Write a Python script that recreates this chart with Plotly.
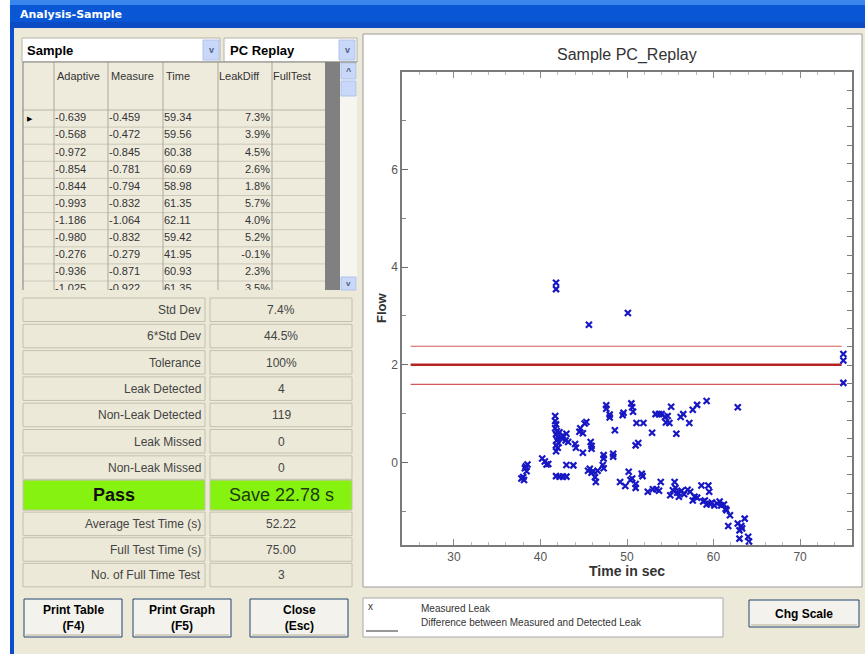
import plotly.graph_objects as go

W, H = 865, 654
FONT = "Liberation Sans, Arial, sans-serif"

# ---------------- data ----------------
# scatter: measured leak (time in sec, flow)
time_s = [
    41.8, 41.8, 45.6, 50.1,
    75.0, 75.0, 75.0,
    37.8, 38.0, 38.1, 38.2, 38.3, 38.5, 38.4,
    40.2, 40.5, 40.7, 40.9,
    41.7, 41.7, 41.8, 41.7, 41.9, 41.8, 42.0, 41.9, 42.1, 41.8, 42.0, 41.8, 42.2, 42.4, 42.6, 43.0, 43.2, 42.9,
    41.8, 42.2, 42.6, 43.0, 43.0, 43.8,
    44.0, 44.1, 44.5, 44.6, 44.9, 45.1, 45.3, 44.9, 45.8, 45.9, 45.9,
    45.5, 45.7, 45.9, 46.1, 46.3, 46.4, 46.6,
    47.3, 47.3, 47.2, 47.3, 48.4, 48.4, 47.6, 47.6, 48.0, 48.0, 48.6, 49.5, 49.6,
    50.5, 50.6, 50.7, 51.1, 51.9, 51.0, 51.3,
    49.2, 49.8, 50.2, 50.4, 50.6, 51.0, 51.0, 51.7, 51.8,
    52.9, 53.3, 53.7, 54.0, 54.4, 54.5, 54.7, 54.9, 55.1, 55.7, 56.2, 56.5, 57.2, 57.6, 58.1, 59.2, 62.8,
    52.4, 53.0, 53.4, 53.7, 53.9, 55.0, 55.3, 55.5, 55.6, 55.8, 56.0, 56.3, 56.6, 57.0, 57.3, 57.6, 57.8, 58.1,
    58.6, 58.8, 59.0, 59.2, 59.4, 59.5, 59.6, 59.8, 60.1, 60.4, 60.7, 60.9, 61.2, 61.4, 61.5, 61.9, 61.7,
    62.8, 63.0, 63.0, 63.2, 63.3, 63.6, 64.0, 64.1,
]
flow_val = [
    3.68, 3.55, 2.82, 3.06,
    2.22, 2.09, 1.63,
    -0.33, -0.30, -0.36, -0.12, -0.08, -0.04, -0.18,
    0.08, 0.02, -0.04, -0.03,
    0.95, 0.85, 0.78, 0.70, 0.64, 0.58, 0.52, 0.46, 0.40, 0.35, 0.30, 0.23, 0.62, 0.50, 0.55, 0.59, 0.42, 0.45,
    -0.28, -0.29, -0.29, -0.29, -0.05, -0.06,
    0.38, 0.30, 0.63, 0.70, 0.60, 0.80, 0.83, 0.20, 0.42, 0.34, 0.28,
    -0.17, -0.13, -0.21, -0.18, -0.30, -0.40, -0.17,
    0.15, 0.08, -0.05, -0.12, 0.18, 0.12, 1.17, 1.10, 0.92, 0.98, 0.66, 0.97, 1.02,
    1.21, 1.13, 1.04, 0.81, 0.81, 0.35, 0.40,
    -0.40, -0.48, -0.19, -0.36, -0.33, -0.44, -0.52, -0.23, -0.28,
    0.61, 0.99, 0.99, 0.99, 0.93, 0.82, 0.95, 0.81, 1.14, 0.59, 0.93, 0.99, 0.81, 1.08, 1.18, 1.26, 1.13,
    -0.60, -0.55, -0.55, -0.58, -0.40, -0.67, -0.57, -0.40, -0.52, -0.62, -0.70, -0.58, -0.65, -0.56, -0.60, -0.78, -0.70, -0.72,
    -0.47, -0.80, -0.78, -0.86, -0.47, -0.60, -0.85, -0.82, -0.88, -0.84, -0.80, -0.88, -0.86, -0.95, -0.98, -1.08, -1.30,
    -1.25, -1.39, -1.56, -1.30, -1.35, -1.15, -1.52, -1.62,
]
# tolerance lines (difference between measured and detected leak)
tol_x = [25.0, 74.8]
tol_center = 2.0
tol_upper = 2.38
tol_lower = 1.60

# table
table_headers = ["Adaptive", "Measure", "Time", "LeakDiff", "FullTest"]
adaptive = ["-0.639", "-0.568", "-0.972", "-0.854", "-0.844", "-0.993", "-1.186", "-0.980", "-0.276", "-0.936", "-1.025"]
measure = ["-0.459", "-0.472", "-0.845", "-0.781", "-0.794", "-0.832", "-1.064", "-0.832", "-0.279", "-0.871", "-0.922"]
time_col = ["59.34", "59.56", "60.38", "60.69", "58.98", "61.35", "62.11", "59.42", "41.95", "60.93", "61.35"]
leakdiff = ["7.3%", "3.9%", "4.5%", "2.6%", "1.8%", "5.7%", "4.0%", "5.2%", "-0.1%", "2.3%", "3.5%"]

# statistics
stat_labels = ["Std Dev", "6*Std Dev", "Tolerance", "Leak Detected", "Non-Leak Detected", "Leak Missed", "Non-Leak Missed"]
stat_values = ["7.4%", "44.5%", "100%", "4", "119", "0", "0"]
result_label = "Pass"
result_value = "Save 22.78 s"
time_labels = ["Average Test Time (s)", "Full Test Time (s)", "No. of Full Time Test"]
time_values = ["52.22", "75.00", "3"]

# ---------------- helpers ----------------
def px(x):
    return x / W


def py(y):
    return 1 - y / H


shapes = []
annotations = []


def rect(x0, y0, x1, y1, fill=None, line=None, lw=1, layer="below"):
    shapes.append(dict(type="rect", xref="paper", yref="paper",
                       x0=px(x0), x1=px(x1), y0=py(y1), y1=py(y0),
                       fillcolor=fill or "rgba(0,0,0,0)",
                       line=dict(color=line or "rgba(0,0,0,0)", width=lw if line else 0),
                       layer=layer))


def hline(x0, x1, y, color, lw=1, layer="below"):
    shapes.append(dict(type="line", xref="paper", yref="paper", x0=px(x0), x1=px(x1),
                       y0=py(y), y1=py(y), line=dict(color=color, width=lw), layer=layer))


def vline(x, y0, y1, color, lw=1, layer="below"):
    shapes.append(dict(type="line", xref="paper", yref="paper", x0=px(x), x1=px(x),
                       y0=py(y0), y1=py(y1), line=dict(color=color, width=lw), layer=layer))


def text(x, y, s, size=11, color="#333333", bold=False, anchor="left", family=FONT, angle=0):
    annotations.append(dict(x=px(x), y=py(y), xref="paper", yref="paper",
                            text=f"<b>{s}</b>" if bold else s, showarrow=False,
                            xanchor=anchor, yanchor="middle", textangle=angle,
                            font=dict(size=size, color=color, family=family)))


def button(x0, y0, x1, y1, label, size=12):
    rect(x0, y0, x1, y1, fill="#F3F2EC", line="#22456F", lw=1)
    hline(x0 + 2, x1 - 2, y1 - 2, "#D6D0C0", 2)
    text((x0 + x1) / 2, (y0 + y1) / 2, label, size=size, color="#000000", bold=True, anchor="center")


BEIGE = "#ECE9D8"

# ---------------- window frame ----------------
rect(14, 28, 865, 654, fill=BEIGE)
rect(10, 0, 865, 28, fill="#0A57D5")
rect(10, 0, 865, 5, fill="#3B86EE")
rect(10, 22, 865, 28, fill="#0B4CC4")
rect(10, 28, 14, 654, fill="#0A4FCF")
text(18, 14, "Analysis-Sample", size=11, color="#FFFFFF", bold=True, family="DejaVu Sans, sans-serif")

# ---------------- combo boxes ----------------
rect(22, 38, 220, 62, fill="#FFFFFF", line="#B5B2A4")
rect(203, 40, 219, 60, fill="#C9D8F8", line="#B0C3EC")
text(211, 50, "v", size=9, color="#4D6185", bold=True, anchor="center")
text(25, 50, "Sample", size=13, color="#000000", bold=True)
rect(224, 38, 357, 62, fill="#FFFFFF", line="#B5B2A4")
rect(339, 40, 355, 60, fill="#C9D8F8", line="#B0C3EC")
text(347, 50, "v", size=9, color="#4D6185", bold=True, anchor="center")
text(228, 50, "PC Replay", size=13, color="#000000", bold=True)

# ---------------- table ----------------
T_X0, T_X1, T_Y0, T_Y1 = 23, 357, 62, 290
HEAD_Y1 = 110
ROW_H = 17.1
col_edges = [23, 54, 108, 163, 218, 272, 325]
rect(T_X0, T_Y0, 325, T_Y1, fill="#EEEBDD")
for i in range(1, len(adaptive)):
    hline(23, 325, HEAD_Y1 + ROW_H * i, "#CDC9B8")
hline(23, 325, HEAD_Y1, "#B9B5A5")
for xe in col_edges[1:-1]:
    vline(xe, T_Y0, T_Y1, "#ADA999")
rect(325, T_Y0, 340, T_Y1, fill="#808080")
rect(340, T_Y0, 357, T_Y1, fill="#F6F5EF")
rect(341, 63, 356, 79, fill="#C9D8F8", line="#B0C3EC")
text(348.5, 71, "^", size=9, color="#4D6185", bold=True, anchor="center")
rect(341, 81, 356, 96, fill="#C9D8F8", line="#B0C3EC")
rect(341, 277, 356, 290, fill="#C9D8F8", line="#B0C3EC")
text(348.5, 283, "v", size=8, color="#4D6185", bold=True, anchor="center")
hline(23, 357, T_Y0, "#7F7F7F")
vline(23, T_Y0, T_Y1, "#7F7F7F")

header_x = [57, 111, 166, 219, 273]
for hx, h in zip(header_x, table_headers):
    text(hx - 2, 76, h, size=11, color="#333333")
text(30, HEAD_Y1 + ROW_H / 2, "▶", size=7, color="#000000", anchor="center")

# ---------------- statistics panel ----------------
STEP = 26.3
top0 = 298
for i, (lab, val) in enumerate(zip(stat_labels, stat_values)):
    y0 = top0 + STEP * i
    rect(23, y0, 205, y0 + 23.5, fill=BEIGE, line="#C4C0AF")
    rect(210, y0, 352, y0 + 23.5, fill=BEIGE, line="#C4C0AF")
    text(203, y0 + 12, lab, size=12, color="#444444", anchor="right")
    text(281, y0 + 12, val, size=12, color="#444444", anchor="center")
py_pass = top0 + STEP * 7 - 2
rect(23, py_pass, 205, py_pass + 30, fill="#86F20F", line="#C4C0AF")
rect(210, py_pass, 352, py_pass + 30, fill="#86F20F", line="#C4C0AF")
text(114, py_pass + 15, result_label, size=18, color="#111111", bold=True, anchor="center")
text(281, py_pass + 15, result_value, size=18, color="#1B3A10", anchor="center")
for i, (lab, val) in enumerate(zip(time_labels, time_values)):
    y0 = py_pass + 32 + 25.6 * i
    rect(23, y0, 205, y0 + 23.5, fill=BEIGE, line="#C4C0AF")
    rect(210, y0, 352, y0 + 23.5, fill=BEIGE, line="#C4C0AF")
    text(203, y0 + 12, lab, size=12, color="#444444", anchor="right")
    text(281, y0 + 12, val, size=12, color="#444444", anchor="center")

# ---------------- buttons ----------------
button(24, 599, 122, 637, "Print Table<br>(F4)")
button(133, 599, 231, 637, "Print Graph<br>(F5)")
button(250, 599, 348, 637, "Close<br>(Esc)")
button(749, 600, 859, 627, "Chg Scale")

# ---------------- legend box ----------------
rect(363, 598, 723, 637, fill="#FFFFFF", line="#A8A8A8")
text(366, 606, "x", size=10, color="#333333")
hline(366, 398, 631, "#333333", 1)
text(419, 608, "Measured Leak", size=10, color="#333333")
text(419, 622, "Difference between Measured and Detected Leak", size=10, color="#333333")

# ---------------- chart panel ----------------
rect(363, 34, 862, 587, fill="#FFFFFF", line="#9A9A9A")
text(627, 55, "Sample PC_Replay", size=16, color="#333333", anchor="center")
text(381, 308, "Flow", size=13, color="#333333", bold=True, anchor="center", angle=-90)
text(627, 571, "Time in sec", size=14, color="#333333", bold=True, anchor="center")

# ---------------- traces ----------------
fig = go.Figure()
fig.add_trace(go.Scatter(x=tol_x, y=[tol_upper] * len(tol_x), mode="lines",
                         line=dict(color="#D45A5A", width=1.2), hoverinfo="skip"))
fig.add_trace(go.Scatter(x=tol_x, y=[tol_lower] * len(tol_x), mode="lines",
                         line=dict(color="#D45A5A", width=1.2), hoverinfo="skip"))
fig.add_trace(go.Scatter(x=tol_x, y=[tol_center] * len(tol_x), mode="lines",
                         line=dict(color="#B42222", width=2.4), hoverinfo="skip"))
fig.add_trace(go.Scatter(x=time_s, y=flow_val, mode="markers",
                         marker=dict(symbol="x-thin", size=6, color="#1717C4",
                                     line=dict(color="#1717C4", width=2.2))))
# helper trace so the right-hand tick axis is drawn
fig.add_trace(go.Scatter(x=[None], y=[None], yaxis="y2", mode="markers", hoverinfo="skip"))

# table cell texts (clipped to the table viewport)
row_centers = [HEAD_Y1 + ROW_H * (i + 0.5) for i in range(len(adaptive))]
tfont = dict(size=11, color="#333333", family=FONT)
for cx, col, pos in [(55, adaptive, "middle right"), (109, measure, "middle right"),
                     (164, time_col, "middle right"), (270, leakdiff, "middle left")]:
    fig.add_trace(go.Scatter(x=[cx] * len(col), y=row_centers, text=col, mode="text",
                             textposition=pos, textfont=tfont, xaxis="x3", yaxis="y3",
                             hoverinfo="skip", cliponaxis=True))

fig.update_layout(
    width=W, height=H, autosize=False,
    margin=dict(l=0, r=0, t=0, b=0),
    paper_bgcolor="#FFFFFF", plot_bgcolor="rgba(0,0,0,0)",
    showlegend=False,
    font=dict(family=FONT, color="#555555"),
    shapes=shapes, annotations=annotations,
    xaxis=dict(domain=[px(402), px(852)], range=[24, 76], anchor="y",
               tickmode="linear", tick0=30, dtick=10, ticks="inside", ticklen=6,
               tickcolor="#8A8A8A", tickwidth=1,
               minor=dict(ticks="inside", dtick=2, ticklen=3, tickcolor="#BBBBBB"),
               showline=True, linecolor="#7A7A7A", linewidth=1.5, mirror="ticks",
               showgrid=False, zeroline=False,
               tickfont=dict(size=12, color="#555555", family=FONT)),
    yaxis=dict(domain=[py(545), py(72.3)], range=[-1.69, 7.99], anchor="x",
               tickmode="linear", tick0=0, dtick=2, ticks="inside", ticklen=6,
               tickcolor="#6A6A6A", tickwidth=1,
               minor=dict(ticks="inside", dtick=1, ticklen=4, tickcolor="#8A8A8A"),
               showline=True, linecolor="#7A7A7A", linewidth=1.5, mirror=True,
               showgrid=False, zeroline=False,
               tickfont=dict(size=12, color="#555555", family=FONT)),
    yaxis2=dict(overlaying="y", side="right", anchor="x", range=[-0.82, 24.97],
                tickmode="linear", tick0=0, dtick=1, ticks="inside", ticklen=5,
                tickcolor="#7A7A7A", showticklabels=False, showgrid=False,
                zeroline=False, showline=False),
    xaxis3=dict(domain=[px(T_X0), px(325)], range=[T_X0, 325], anchor="y3",
                visible=False, fixedrange=True),
    yaxis3=dict(domain=[py(T_Y1), py(HEAD_Y1)], range=[T_Y1, HEAD_Y1], anchor="x3",
                visible=False, fixedrange=True),
)

fig.write_html("out.html",
               config={"displayModeBar": False},
               post_script="document.body.style.margin='0px';")
